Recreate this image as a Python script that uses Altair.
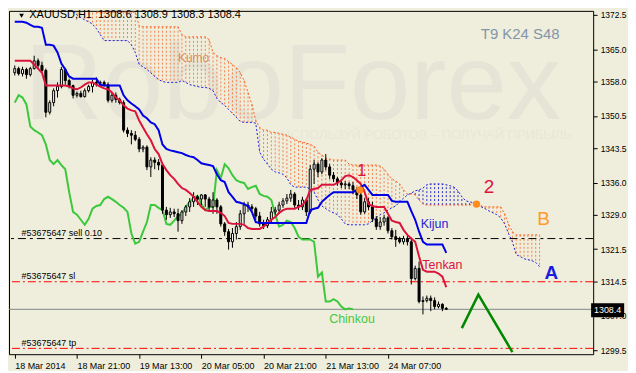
import altair as alt
import numpy as np
import pandas as pd

BG = "#EFEEDC"
WM = "#E5E4D6"

# ---------------- data (bar index 0 = first visible H1 bar) ----------------
OPEN = [1359.9,1360.8,1359.7,1360.6,1359.5,1360.8,1362.5,1361.5,1360.4,1351.3,
        1353.4,1356.0,1356.9,1360.6,1358.2,1357.1,1355.0,1355.4,1354.7,1356.0,
        1356.9,1357.8,1357.6,1357.8,1357.3,1353.9,1355.0,1354.1,1353.4,1347.4,
        1346.7,1346.3,1345.4,1343.3,1343.7,1339.4,1340.9,1340.4,1339.8,1330.0,
        1329.0,1329.6,1329.2,1327.7,1329.6,1330.7,1331.8,1332.9,1332.4,1333.3,
        1332.4,1330.7,1332.2,1330.7,1327.0,1325.3,1323.1,1324.9,1326.4,1329.2,
        1331.1,1330.7,1330.3,1328.7,1327.0,1326.6,1327.9,1329.6,1330.0,1331.1,
        1332.0,1332.6,1333.5,1331.1,1330.7,1332.2,1329.6,1338.9,1340.0,1338.3,
        1340.9,1339.4,1337.6,1336.8,1335.9,1335.5,1335.7,1335.3,1334.4,1333.3,
        1329.6,1331.8,1330.7,1328.1,1326.4,1327.4,1328.3,1325.5,1324.2,1323.6,
        1323.1,1323.8,1323.1,1315.1,1317.3,1310.1,1310.3,1310.8,1310.3,1309.0,
        1309.5,1308.6]
HIGH = [1361.5,1361.2,1361.2,1361.0,1361.2,1363.6,1363.0,1362.3,1360.8,1353.9,
        1356.5,1357.8,1361.2,1361.0,1358.6,1357.3,1355.8,1356.0,1356.5,1357.3,
        1358.4,1358.9,1358.2,1358.2,1357.8,1355.6,1355.6,1354.5,1353.9,1348.0,
        1347.4,1347.2,1345.9,1344.1,1344.1,1341.5,1341.5,1341.1,1340.2,1330.7,
        1330.5,1330.3,1330.3,1330.0,1331.1,1332.6,1333.9,1333.3,1333.5,1333.5,
        1332.9,1333.9,1332.6,1331.1,1327.4,1325.9,1326.1,1327.4,1330.0,1331.8,
        1331.8,1331.3,1330.7,1329.6,1327.9,1328.5,1330.7,1330.7,1331.8,1332.6,
        1333.5,1334.4,1333.9,1332.2,1332.9,1332.6,1339.8,1340.9,1340.4,1341.3,
        1342.2,1340.0,1338.3,1337.2,1336.5,1336.3,1336.1,1336.1,1335.0,1333.7,
        1332.6,1332.6,1331.8,1328.7,1328.5,1329.0,1328.7,1326.1,1325.7,1324.2,
        1324.4,1324.4,1324.0,1317.9,1318.8,1311.2,1311.4,1311.4,1311.0,1310.1,
        1309.7,1308.9]
LOW = [1359.3,1359.3,1359.1,1358.6,1359.1,1360.6,1360.8,1359.9,1350.2,1350.8,
       1352.6,1354.5,1356.5,1357.3,1356.5,1354.3,1354.5,1354.5,1354.5,1355.6,
       1355.6,1356.9,1356.9,1356.9,1353.4,1353.4,1353.4,1353.0,1346.9,1345.9,
       1344.3,1345.0,1342.6,1342.6,1338.7,1337.2,1338.9,1338.7,1329.2,1327.9,
       1328.3,1328.5,1325.3,1327.0,1328.7,1329.6,1330.7,1331.1,1331.1,1330.7,
       1330.0,1329.2,1329.2,1326.4,1324.4,1321.4,1321.8,1323.6,1325.7,1327.0,
       1329.6,1329.6,1327.9,1326.4,1325.9,1326.1,1327.4,1329.0,1329.2,1330.5,
       1331.3,1331.8,1330.5,1330.0,1330.0,1328.7,1329.2,1335.7,1337.2,1337.8,
       1338.7,1336.8,1336.1,1335.3,1334.8,1334.6,1334.6,1333.5,1332.4,1329.0,
       1329.2,1330.0,1327.4,1325.7,1325.7,1326.6,1324.9,1323.6,1322.0,1322.7,
       1322.5,1322.3,1313.8,1314.7,1309.7,1307.3,1309.9,1308.0,1308.4,1308.6,
       1308.0,1308.3]
CLOSE = [1360.8,1359.7,1360.6,1359.5,1360.8,1362.5,1361.5,1360.4,1351.3,1353.4,
         1356.0,1356.9,1360.6,1358.2,1357.1,1355.0,1355.4,1354.7,1356.0,1356.9,
         1357.8,1357.6,1357.8,1357.3,1353.9,1355.0,1354.1,1353.4,1347.4,1346.7,
         1346.3,1345.4,1343.3,1343.7,1339.4,1340.9,1340.4,1339.8,1330.0,1329.0,
         1329.6,1329.2,1327.7,1329.6,1330.7,1331.8,1332.9,1332.4,1333.3,1332.4,
         1330.7,1332.2,1330.7,1327.0,1325.3,1323.1,1324.9,1326.4,1329.2,1331.1,
         1330.7,1330.3,1328.7,1327.0,1326.6,1327.9,1329.6,1330.0,1331.1,1332.0,
         1332.6,1333.5,1331.1,1330.7,1332.2,1329.6,1338.9,1340.0,1338.3,1340.9,
         1339.4,1337.6,1336.8,1335.9,1335.5,1335.7,1335.3,1334.4,1333.3,1329.6,
         1331.8,1330.7,1328.1,1326.4,1327.4,1328.3,1325.5,1324.2,1323.6,1323.1,
         1323.8,1323.1,1315.1,1317.3,1310.1,1310.3,1310.8,1310.3,1309.0,1309.5,
         1308.6,1308.4]
TENKAN = [1362.5,1362.5,1362.5,1362.5,1362.5,1361.7,1360.8,1359.9,1357.1,1357.1,
          1357.1,1357.1,1357.1,1357.1,1356.9,1356.5,1356.3,1356.7,1357.3,1357.8,
          1357.8,1357.3,1356.9,1356.5,1356.3,1355.6,1354.5,1353.9,1352.8,1352.1,
          1351.7,1351.5,1349.5,1348.0,1346.5,1345.2,1343.3,1342.2,1340.0,1338.7,
          1337.6,1336.8,1335.7,1334.8,1334.4,1333.7,1332.9,1331.8,1330.7,1330.0,
          1329.8,1329.8,1329.8,1329.4,1328.7,1327.2,1327.0,1327.0,1327.0,1326.8,
          1326.1,1325.9,1325.9,1325.9,1326.4,1327.2,1327.9,1328.5,1329.4,1330.0,
          1330.3,1330.3,1330.3,1330.7,1331.1,1332.2,1334.4,1334.6,1334.8,1335.5,
          1335.5,1335.5,1335.5,1335.9,1336.5,1337.4,1337.6,1337.2,1336.5,1335.7,
          1333.9,1331.3,1330.9,1330.7,1330.7,1330.7,1329.2,1327.7,1327.4,1327.2,
          1325.7,1324.6,1323.8,1323.1,1319.9,1317.0,1316.6,1316.6,1316.6,1316.2,
          1315.5,1313.2]
KIJUN = [1371.0,1371.0,1371.0,1370.8,1370.3,1369.9,1369.9,1369.7,1366.0,1366.0,
         1365.8,1364.3,1361.9,1360.6,1359.1,1358.6,1358.6,1358.6,1358.6,1358.6,
         1358.6,1358.6,1357.3,1357.1,1357.1,1357.1,1357.1,1357.1,1355.0,1353.9,
         1353.2,1352.6,1351.9,1350.6,1350.0,1349.1,1348.7,1347.4,1344.3,1343.3,
         1343.0,1342.8,1342.6,1342.4,1342.0,1341.7,1341.5,1340.9,1340.2,1340.0,
         1339.8,1339.6,1337.8,1336.5,1336.1,1333.9,1332.9,1331.8,1331.6,1331.3,
         1330.9,1329.6,1327.4,1327.2,1327.2,1327.2,1327.2,1327.2,1327.2,1327.2,
         1327.2,1327.2,1327.2,1327.2,1327.2,1327.2,1330.0,1330.3,1330.5,1331.8,
         1332.6,1333.3,1333.9,1333.9,1333.9,1333.9,1333.9,1333.9,1334.4,1335.0,
         1335.5,1334.4,1333.3,1333.3,1333.3,1333.3,1333.3,1332.0,1331.8,1331.8,
         1331.8,1331.8,1329.8,1327.9,1325.3,1323.1,1322.5,1322.5,1322.5,1322.5,
         1322.5,1320.7]
CHINKOU = [1353.4,1355.0,1354.5,1353.0,1348.2,1347.4,1346.9,1346.3,1344.3,1340.9,
           1340.0,1340.9,1339.8,1338.9,1333.9,1329.6,1329.0,1327.9,1326.8,1328.1,
           1330.3,1330.9,1331.1,1332.4,1332.9,1332.4,1331.8,1331.1,1330.5,1329.6,
           1324.9,1322.7,1323.1,1325.3,1327.4,1331.1,1331.1,1330.5,1330.0,1327.0,
           1326.8,1327.7,1328.7,1329.2,1330.7,1331.8,1332.6,1333.1,1331.3,1330.0,
           1330.7,1330.7,1338.7,1337.0,1340.0,1339.1,1337.6,1336.5,1336.1,1335.9,
           1334.6,1335.0,1335.3,1333.5,1333.1,1332.9,1332.2,1329.0,1326.4,1326.8,
           1327.7,1327.4,1326.1,1324.2,1323.6,1323.6,1323.6,1323.1,1315.5,1316.4,
           1310.1,1310.1,1310.6,1310.1,1309.0,1308.4,1308.6,1308.4]
SPAN_FIRST_BAR = 14
SPAN_A = [1374.7,1374.7,1374.7,1374.7,1374.7,1374.7,1374.7,
          1373.1,1373.1,1373.1,1373.1,1373.1,1373.1,1373.1,1373.1,1373.1,1373.1,1373.1,
          1370.1,1369.9,1369.9,1369.9,1369.9,1369.9,1369.9,1369.9,1369.9,1369.9,1369.9,
          1368.2,1367.7,1367.7,1367.7,1367.7,1367.7,1367.7,1367.1,
          1364.3,1363.6,1363.2,1363.0,1362.3,1361.7,1361.0,1359.9,1358.2,1355.6,
          1353.0,1349.5,1348.0,1347.4,1347.4,1346.9,1346.9,1346.7,1346.5,1346.3,
          1345.9,1345.4,1345.0,1344.8,1344.6,1344.3,1343.9,1342.6,1342.0,1341.3,1341.1,
          1340.9,1340.9,1340.9,1340.9,1340.0,
          1339.8,1339.8,1339.8,1339.8,1339.8,1339.8,1339.8,
          1339.6,1338.9,1337.8,1336.8,1336.3,1335.7,1334.4,1333.5,1333.5,1333.3,1332.2,1331.3,
          1331.1,1331.1,1331.1,1331.1,1331.1,1331.1,1331.1,1331.1,1331.1,1331.1,1331.1,1331.1,
          1331.3,1331.3,1330.9,1330.7,1330.7,1330.7,1330.7,1330.7,
          1329.2,1327.0,1325.3,
          1324.6,1324.6,1324.6,1324.6,1324.6,1324.6,1324.6]
SPAN_B = [1374.7,1373.4,1372.5,1371.9,1371.4,1371.0,1370.5,1369.5,1368.2,
          1366.9,1366.9,1366.9,1366.9,1366.9,1366.9,1366.9,
          1366.0,1364.3,1361.7,1361.2,1360.6,1359.9,1359.1,1358.4,1358.0,
          1357.8,1357.8,1357.8,1357.8,
          1358.2,1357.8,1357.3,1357.1,1356.9,1356.7,1356.7,1356.5,1356.0,1354.3,
          1353.4,1352.8,1351.9,1351.1,1350.2,1349.3,
          1349.1,1349.1,1349.1,
          1348.9,1342.6,1341.1,1340.0,1338.9,1338.3,1338.1,1337.8,1337.0,1335.5,
          1335.0,1335.0,1335.0,1335.0,
          1334.6,1333.9,1332.2,1330.9,1330.3,1329.8,1329.4,1329.0,1328.1,1327.0,
          1326.8,1326.8,1326.8,1326.8,1326.8,
          1327.0,1327.7,1328.3,1329.0,1329.4,1330.0,1330.5,1330.9,1331.8,1332.6,
          1333.3,1333.7,1334.2,1334.4,1334.8,1335.5,
          1335.7,1335.7,1335.7,1335.7,
          1335.5,1335.3,1335.0,1334.2,1332.9,1332.0,1331.8,1331.6,1331.3,1330.7,
          1330.3,1329.8,1329.4,1329.0,1328.3,1327.0,1324.9,1323.1,1320.3,1319.9,
          1319.4,1319.2,1319.0,1318.6,1317.7]
FORECAST_BAR = [115, 119.25, 128]
FORECAST_PRICE = [1304.3, 1311.6, 1299.1]
SIGNAL_BAR = [88.75, 118.75]
SIGNAL_PRICE = [1334.4, 1331.3]

Y_TICKS = [1372.5, 1365.0, 1358.0, 1350.5, 1343.5, 1336.0, 1329.0, 1321.5, 1314.5, 1307.0, 1299.5]
X_TICK_BARS = [0, 16, 32, 48, 64, 80, 96]
X_TICK_LABELS = ["18 Mar 2014", "18 Mar 21:00", "19 Mar 13:00", "20 Mar 05:00",
                 "20 Mar 21:00", "21 Mar 13:00", "24 Mar 07:00"]

SELL_PRICE = 1323.8
SL_PRICE = 1314.4
TP_PRICE = 1299.9
BID = 1308.4

TITLE = "XAUUSD,H1\u00a0 1308.6 1308.9 1308.3 1308.4"

CENTER_TEXT = ["Kumo", "Kijun", "Tenkan", "Chinkou", "1", "2", "B", "T9 K24 S48"]
CENTER_BAR = [46, 108, 110, 86.75, 89.25, 122, 136, 130]
CENTER_PRICE = [1363.0, 1327.0, 1318.1, 1306.2, 1338.5, 1335.0, 1328.1, 1368.4]
CENTER_SIZE = [12, 12.5, 12.5, 12.5, 17, 19, 19, 15]
CENTER_COLOR = ["#E08A58", "#2424D8", "#DC143C", "#45C845", "#DC143C", "#DC143C", "#FF9A2E", "#8395A8"]

LEFT_TEXT = ["#53675647 sell 0.10", "#53675647 sl", "#53675647 tp"]
LEFT_BAR = [1.75, 1.75, 1.75]
LEFT_PRICE = [1325.1, 1315.75, 1301.0]

# ---------------- frames ----------------
N = len(CLOSE)
candles = pd.DataFrame({"bar": list(range(N)), "open": OPEN, "high": HIGH, "low": LOW, "close": CLOSE,
                        "tenkan": TENKAN, "kijun": KIJUN})
candles["fill"] = np.where(candles["close"] > candles["open"], "#FFFFFF", "#000000")
chink = pd.DataFrame({"bar": list(range(len(CHINKOU))), "price": CHINKOU})
kumo = pd.DataFrame({"bar": list(range(SPAN_FIRST_BAR, SPAN_FIRST_BAR + len(SPAN_A))),
                     "a": SPAN_A, "b": SPAN_B})
kumo["hatch"] = np.where(kumo["a"] >= kumo["b"], "#F5824C", "#2A2AD0")
fc = pd.DataFrame({"bar": FORECAST_BAR, "price": FORECAST_PRICE})
sig = pd.DataFrame({"bar": SIGNAL_BAR, "price": SIGNAL_PRICE})
ctext = pd.DataFrame({"text": CENTER_TEXT, "bar": CENTER_BAR, "price": CENTER_PRICE,
                      "fs": CENTER_SIZE, "col": CENTER_COLOR})
ltext = pd.DataFrame({"text": LEFT_TEXT, "bar": LEFT_BAR, "price": LEFT_PRICE})

# ---------------- scales / axes ----------------
xs = alt.Scale(domain=[-0.2, 147.5], nice=False, zero=False)
ys = alt.Scale(domain=[1298.63, 1373.37], nice=False, zero=False)
expr = ""
for v, lab in zip(X_TICK_BARS, X_TICK_LABELS):
    expr += f"datum.value == {v} ? '{lab}' : "
expr += "''"
FONT = "Liberation Sans"
xaxis = alt.Axis(values=X_TICK_BARS, labelExpr=expr, labelAlign="left", labelPadding=3,
                 tickSize=4, tickColor="black", labelColor="black", labelFont=FONT,
                 labelFontSize=9, domain=False, grid=False, title=None,
                 labelOverlap=False, labelFlush=False)
yaxis = alt.Axis(orient="right", values=Y_TICKS, format=".1f", tickSize=4, tickColor="black",
                 labelColor="black", labelFont=FONT, labelFontSize=8.5, labelPadding=3,
                 domain=False, grid=False, title=None, labelOverlap=False, labelFlush=False)


def X(f):
    return alt.X(f, type="quantitative", scale=xs, axis=xaxis)


def Y(f):
    return alt.Y(f, type="quantitative", scale=ys, axis=yaxis)


layers = []
# watermark
wm = pd.DataFrame({"text": ["RoboForex"], "bar": [140.5], "price": [1349.76]})
layers.append(alt.Chart(wm).mark_text(font="Liberation Sans Narrow, Liberation Sans", fontSize=109,
                                      align="right", baseline="alphabetic", color=WM)
              .encode(x=X("bar"), y=Y("price"), text="text:N"))
wm2 = pd.DataFrame({"text": ["ИСПОЛЬЗУЙ РОБОТОВ – ПОЛУЧАЙ ПРИБЫЛЬ"], "bar": [143.25], "price": [1346.3]})
layers.append(alt.Chart(wm2).mark_text(font=FONT, fontSize=13, align="right", baseline="middle",
                                       color="#E8E7D9")
              .encode(x=X("bar"), y=Y("price"), text="text:N"))
# kumo hatch + span lines
layers.append(alt.Chart(kumo).mark_rule(strokeWidth=1, strokeDash=[2, 2], clip=True)
              .encode(x=X("bar"), y=Y("a"), y2="b", color=alt.Color("hatch:N", scale=None)))
layers.append(alt.Chart(kumo).mark_line(color="#FF5F1F", strokeWidth=1, strokeDash=[2, 2], clip=True)
              .encode(x=X("bar"), y=Y("a")))
layers.append(alt.Chart(kumo).mark_line(color="#1C1CE0", strokeWidth=1, strokeDash=[2, 2], clip=True)
              .encode(x=X("bar"), y=Y("b")))
# order lines
layers.append(alt.Chart(pd.DataFrame({"p": [SELL_PRICE]})).mark_rule(color="black", strokeWidth=1,
                                                                      strokeDash=[8, 4, 3, 4])
              .encode(y=Y("p")))
layers.append(alt.Chart(pd.DataFrame({"p": [SL_PRICE, TP_PRICE]})).mark_rule(color="#FF0000", strokeWidth=1,
                                                                              strokeDash=[8, 3, 2, 3])
              .encode(y=Y("p")))
layers.append(alt.Chart(pd.DataFrame({"p": [BID]})).mark_rule(color="#7F878C", strokeWidth=1)
              .encode(y=Y("p")))
# chinkou
layers.append(alt.Chart(chink).mark_line(color="#3CC83C", strokeWidth=2, clip=True)
              .encode(x=X("bar"), y=Y("price")))
# candles
layers.append(alt.Chart(candles).mark_rule(color="black", strokeWidth=1)
              .encode(x=X("bar"), y=Y("low"), y2="high"))
layers.append(alt.Chart(candles).mark_bar(size=2, stroke="black", strokeWidth=1)
              .encode(x=X("bar"), y=Y("open"), y2="close", fill=alt.Fill("fill:N", scale=None)))
# tenkan / kijun
layers.append(alt.Chart(candles).mark_line(color="#DC143C", strokeWidth=2, clip=True)
              .encode(x=X("bar"), y=Y("tenkan")))
layers.append(alt.Chart(candles).mark_line(color="#0000E6", strokeWidth=2, clip=True)
              .encode(x=X("bar"), y=Y("kijun")))
# forecast zigzag
layers.append(alt.Chart(fc).mark_line(color="#008800", strokeWidth=2.5)
              .encode(x=X("bar"), y=Y("price")))
# signal points
layers.append(alt.Chart(sig).mark_point(filled=True, size=55, color="#FF8C1A", opacity=1)
              .encode(x=X("bar"), y=Y("price")))
# labels
layers.append(alt.Chart(ctext).mark_text(font=FONT, align="center", baseline="middle")
              .encode(x=X("bar"), y=Y("price"), text="text:N",
                      size=alt.Size("fs:Q", scale=None), color=alt.Color("col:N", scale=None)))
layers.append(alt.Chart(pd.DataFrame({"text": ["A"], "bar": [138], "price": [1316.2]}))
              .mark_text(font=FONT, fontSize=19, fontWeight="bold", align="center", baseline="middle",
                         color="#1C1CE0")
              .encode(x=X("bar"), y=Y("price"), text="text:N"))
layers.append(alt.Chart(ltext).mark_text(font=FONT, fontSize=9, align="left", baseline="middle",
                                         color="black")
              .encode(x=X("bar"), y=Y("price"), text="text:N"))
layers.append(alt.Chart(pd.DataFrame({"text": [TITLE], "bar": [3.75], "price": [1372.4]}))
              .mark_text(font=FONT, fontSize=11, align="left", baseline="middle", color="black")
              .encode(x=X("bar"), y=Y("price"), text="text:N"))
layers.append(alt.Chart(pd.DataFrame({"bar": [1.75], "price": [1372.3]}))
              .mark_point(shape="triangle-down", filled=True, size=22, color="black", opacity=1)
              .encode(x=X("bar"), y=Y("price")))
# current price box on the axis
box = pd.DataFrame({"x1": [148.25], "x2": [156.75], "y1": [1309.7], "y2": [1306.7]})
layers.append(alt.Chart(box).mark_rect(color="black", clip=False)
              .encode(x=X("x1"), x2="x2", y=Y("y1"), y2="y2"))
layers.append(alt.Chart(pd.DataFrame({"text": [f"{BID:.1f}"], "bar": [152.5], "price": [1308.2]}))
              .mark_text(font=FONT, fontSize=9, color="white", align="center", baseline="middle", clip=False)
              .encode(x=X("bar"), y=Y("price"), text="text:N"))

chart = (alt.layer(*layers)
         .properties(width=587, height=345, padding={"left": 0, "top": 0, "right": 2, "bottom": 0})
         .configure(background=BG)
         .configure_view(stroke="black", strokeWidth=1, fill=BG))

chart.save("out.html", embed_options={"renderer": "svg", "actions": False})
